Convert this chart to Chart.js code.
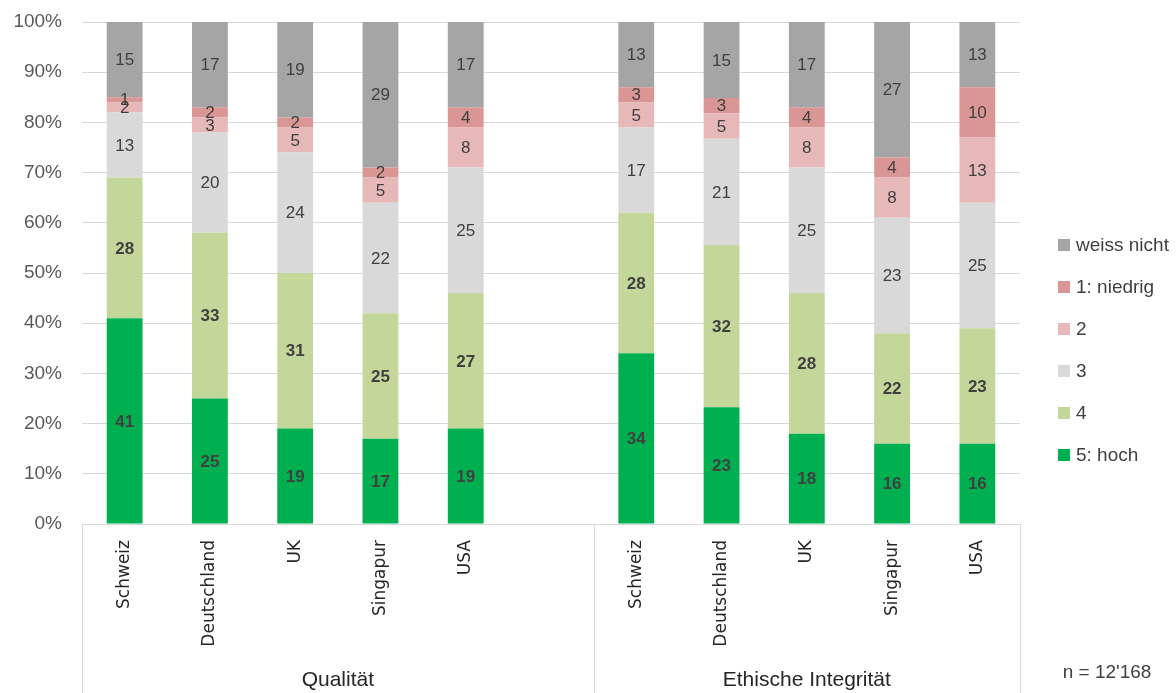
<!DOCTYPE html>
<html>
<head>
<meta charset="utf-8">
<script src="https://cdn.jsdelivr.net/npm/chart.js@4/dist/chart.umd.min.js"></script>
<style>
  html, body { margin: 0; padding: 0; background: #fff; }
  #wrap { width: 1176px; height: 693px; position: relative; }
</style>
</head>
<body>
<div id="wrap"><canvas id="chart"></canvas></div>
<script>
// categories (empty slot separates the two groups, as in the original)
const countries = ["Schweiz", "Deutschland", "UK", "Singapur", "USA", "",
                   "Schweiz", "Deutschland", "UK", "Singapur", "USA"];
const groupNames = ["Qualität", "Ethische Integrität"];
const groupSizes = [6, 5];
const yTicks = [0, 10, 20, 30, 40, 50, 60, 70, 80, 90, 100];
const footNote = "n = 12'168";

// answers in percent, bottom to top
const hoch     = [41, 25, 19, 17, 19, null, 34, 23, 18, 16, 16];
const vier     = [28, 33, 31, 25, 27, null, 28, 32, 28, 22, 23];
const drei     = [13, 20, 24, 22, 25, null, 17, 21, 25, 23, 25];
const zwei     = [2, 3, 5, 5, 8, null, 5, 5, 8, 8, 13];
const niedrig  = [1, 2, 2, 2, 4, null, 3, 3, 4, 4, 10];
const weissNicht = [15, 17, 19, 29, 17, null, 13, 15, 17, 27, 13];

const series = [
  { label: "5: hoch", values: hoch, color: "#00b050", bold: true },
  { label: "4", values: vier, color: "#c4d79b", bold: true },
  { label: "3", values: drei, color: "#d9d9d9", bold: false },
  { label: "2", values: zwei, color: "#e6b8b7", bold: false },
  { label: "1: niedrig", values: niedrig, color: "#da9694", bold: false },
  { label: "weiss nicht", values: weissNicht, color: "#a5a5a5", bold: false },
];

// totals per bar, so each column fills 100% like Excel does
const totals = countries.map((c, i) =>
  series.reduce((s, d) => s + (d.values[i] || 0), 0));

const datasets = series.map(s => ({
  label: s.label,
  data: s.values.map((v, i) => v == null ? null : v / totals[i] * 100),
  raw: s.values,
  bold: s.bold,
  backgroundColor: s.color,
  borderWidth: 0,
  barPercentage: 0.42,
  categoryPercentage: 1,
}));

const FONT = "'Liberation Sans', Arial, sans-serif";

// value labels in the middle of each segment
const segmentLabels = {
  id: "segmentLabels",
  afterDatasetsDraw(chart) {
    const ctx = chart.ctx;
    ctx.save();
    ctx.textAlign = "center";
    ctx.textBaseline = "middle";
    ctx.fillStyle = "#404040";
    chart.data.datasets.forEach((ds, di) => {
      const meta = chart.getDatasetMeta(di);
      ctx.font = (ds.bold ? "bold " : "") + "17px " + FONT;
      meta.data.forEach((bar, i) => {
        const v = ds.raw[i];
        if (v == null) return;
        ctx.fillText(String(v), bar.x, (bar.y + bar.base) / 2 + 1);
      });
    });
    ctx.restore();
  }
};

// group brackets below the rotated country names, legend, footnote
const groupAxis = {
  id: "groupAxis",
  afterDraw(chart) {
    const ctx = chart.ctx;
    const x = chart.scales.x;
    const area = chart.chartArea;
    const bottom = chart.height;
    const step = x.getPixelForValue(1) - x.getPixelForValue(0);
    ctx.save();
    ctx.strokeStyle = "#d9d9d9";
    ctx.lineWidth = 1;
    let start = 0;
    const edges = [area.left];
    groupSizes.forEach(n => {
      start += n;
      edges.push(x.getPixelForValue(start - 1) + step / 2);
    });
    edges.forEach(px => {
      ctx.beginPath();
      ctx.moveTo(Math.round(px) + 0.5, area.bottom);
      ctx.lineTo(Math.round(px) + 0.5, bottom);
      ctx.stroke();
    });
    ctx.fillStyle = "#262626";
    ctx.font = "21px " + FONT;
    ctx.textAlign = "center";
    ctx.textBaseline = "middle";
    groupNames.forEach((g, i) => {
      ctx.fillText(g, (edges[i] + edges[i + 1]) / 2, 680);
    });
    ctx.fillStyle = "#404040";
    ctx.font = "19px " + FONT;
    ctx.fillText(footNote, 1107, 673);

    // legend, top entry first
    ctx.textAlign = "left";
    ctx.font = "19px " + FONT;
    const items = chart.data.datasets.slice().reverse();
    items.forEach((ds, i) => {
      const cy = 245 + i * 42;
      ctx.fillStyle = ds.backgroundColor;
      ctx.fillRect(1058, cy - 6, 12, 12);
      ctx.fillStyle = "#404040";
      ctx.fillText(ds.label, 1076, cy + 1);
    });
    ctx.restore();
  }
};

new Chart(document.getElementById("chart"), {
  type: "bar",
  data: { labels: countries, datasets },
  plugins: [segmentLabels, groupAxis],
  options: {
    responsive: true,
    maintainAspectRatio: false,
    animation: false,
    layout: { padding: { top: 22, right: 156, left: 0, bottom: 0 } },
    plugins: {
      tooltip: { enabled: false },
      legend: { display: false },
    },
    scales: {
      x: {
        stacked: true,
        grid: { display: false },
        border: { display: true, color: "#d9d9d9" },
        ticks: {
          minRotation: 90,
          maxRotation: 90,
          padding: 8,
          color: "#262626",
          font: { family: "'DejaVu Sans', sans-serif", size: 17 },
        },
        afterFit(scale) {
          scale.height = 169;
          scale.paddingTop = 0;
          scale.paddingBottom = 0;
        },
      },
      y: {
        stacked: true,
        min: 0,
        max: 100,
        afterBuildTicks(scale) { scale.ticks = yTicks.map(v => ({ value: v })); },
        grid: { color: "#d9d9d9", drawTicks: false },
        border: { display: false },
        ticks: {
          padding: 20,
          color: "#595959",
          font: { family: FONT, size: 19 },
          callback: v => v + "%",
        },
        afterFit(scale) {
          scale.width = 82;
          scale.paddingTop = 0;
          scale.paddingBottom = 0;
        },
      },
    },
  },
});
</script>
</body>
</html>
